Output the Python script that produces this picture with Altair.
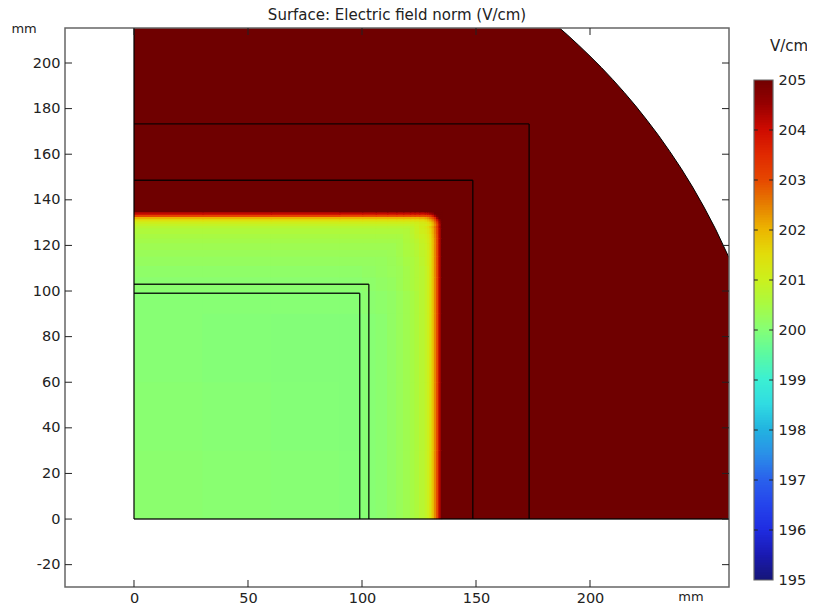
import altair as alt
import pandas as pd

# ---- axes ----
x_ticks = [0, 50, 100, 150, 200]
y_ticks = [-20, 0, 20, 40, 60, 80, 100, 120, 140, 160, 180, 200]
x_dom = [-30.26, 260.96]
y_dom = [-29.8, 215.35]
tick_mm = 3.07

# ---- outer boundary (arc), mm ----
arc_x = [0, 185, 190, 195, 200, 205, 210, 215, 220, 225, 230, 235, 240, 245, 250, 255, 260, 261]
arc_y = [216.8, 216.8, 212.4, 207.8, 203.0, 198.0, 192.7, 187.1, 181.2, 174.9, 168.3, 161.2, 153.7, 145.6, 136.8, 127.3, 116.7, 114.5]

# ---- square outlines, mm ----
squares = [99, 103, 148.6, 173.3]

# ---- field norm on a non-uniform grid (V/cm) ----
edges = [0, 30, 60, 90, 100, 106, 111, 115, 118, 121, 123, 125, 127.5, 128.5, 129.5, 130.5, 131.5, 132.5, 133.5, 134.5, 135.5]
tail = [200.85, 201.0, 201.3, 201.8, 202.4, 203.0, 204.2, 205]
field = [
    [200.06, 200.03, 200.0, 199.97, 200.0, 200.05, 200.15, 200.25, 200.35, 200.45, 200.55, 200.7] + tail,
    [200.03, 200.0, 199.97, 199.95, 200.0, 200.05, 200.15, 200.25, 200.35, 200.45, 200.55, 200.7] + tail,
    [200.0, 199.97, 199.95, 199.95, 200.0, 200.05, 200.15, 200.25, 200.35, 200.45, 200.55, 200.7] + tail,
    [200.0, 200.0, 200.0, 200.0, 200.05, 200.1, 200.15, 200.25, 200.35, 200.45, 200.55, 200.7] + tail,
    [200.05, 200.05, 200.05, 200.05, 200.1, 200.15, 200.2, 200.3, 200.4, 200.5, 200.6, 200.7] + tail,
    [200.12, 200.12, 200.12, 200.12, 200.15, 200.2, 200.25, 200.3, 200.4, 200.5, 200.6, 200.7] + tail,
    [200.2, 200.2, 200.2, 200.2, 200.2, 200.22, 200.27, 200.35, 200.45, 200.5, 200.6, 200.75, 200.9, 201.05, 201.3, 201.8, 202.4, 203.0, 204.2, 205],
    [200.27, 200.27, 200.27, 200.27, 200.27, 200.27, 200.3, 200.38, 200.5, 200.55, 200.65, 200.8, 200.9, 201.05, 201.3, 201.8, 202.4, 203.0, 204.2, 205],
    [200.33, 200.33, 200.33, 200.33, 200.33, 200.33, 200.33, 200.4, 200.52, 200.6, 200.7, 200.85, 200.95, 201.1, 201.35, 201.85, 202.4, 203.0, 204.2, 205],
    [200.4, 200.4, 200.4, 200.4, 200.4, 200.4, 200.4, 200.42, 200.55, 200.65, 200.75, 200.9, 201.0, 201.15, 201.4, 201.85, 202.4, 203.0, 204.2, 205],
    [200.47, 200.47, 200.47, 200.47, 200.47, 200.47, 200.47, 200.47, 200.57, 200.7, 200.85, 200.95, 201.05, 201.2, 201.45, 201.9, 202.45, 203.0, 204.2, 205],
    [200.57, 200.57, 200.57, 200.57, 200.57, 200.57, 200.57, 200.57, 200.6, 200.75, 200.9, 201.05, 201.15, 201.3, 201.55, 202.0, 202.5, 203.1, 204.2, 205],
    [200.7, 200.7, 200.7, 200.7, 200.7, 200.7, 200.7, 200.7, 200.7, 200.8, 200.95, 201.1, 201.25, 201.45, 201.7, 202.1, 202.6, 203.2, 204.3, 205],
    [200.85, 200.85, 200.85, 200.85, 200.85, 200.85, 200.85, 200.85, 200.85, 200.9, 201.0, 201.1, 201.15, 201.3, 201.5, 201.9, 202.4, 203.0, 204.2, 205],
    [201.05, 201.05, 201.05, 201.05, 201.05, 201.05, 201.05, 201.05, 201.05, 201.05, 201.1, 201.2, 201.3, 201.45, 201.65, 202.05, 202.6, 203.3, 204.4, 205],
    [201.4, 201.4, 201.4, 201.4, 201.4, 201.4, 201.4, 201.4, 201.4, 201.4, 201.45, 201.5, 201.6, 201.8, 202.05, 202.4, 202.9, 203.8, 204.6, 205],
    [202.0, 202.0, 202.0, 202.0, 202.0, 202.0, 202.0, 202.0, 202.0, 202.0, 202.0, 202.05, 202.15, 202.3, 202.6, 202.9, 203.5, 204.4, 205, 205],
    [203.0, 203.0, 203.0, 203.0, 203.0, 203.0, 203.0, 203.0, 203.0, 203.0, 203.0, 203.0, 203.0, 203.1, 203.3, 203.8, 204.4, 204.9, 205, 205],
    [204.1, 204.1, 204.1, 204.1, 204.1, 204.1, 204.1, 204.1, 204.1, 204.1, 204.1, 204.1, 204.15, 204.2, 204.4, 204.6, 205, 205, 205, 205],
    [205] * 20,
]

# ---- colour table ----
stops = [195, 195.5, 196, 196.5, 197, 197.5, 198, 198.5, 199, 199.5, 200, 200.5, 201, 201.5, 202, 202.5, 203, 203.5, 204, 204.5, 205]
colors = ["#15157a", "#1a1ab4", "#1f2de2", "#2545ec", "#2a62ec", "#2a90e8", "#22b4e0", "#30dce2", "#3cf0d2", "#5cfaa0",
          "#87ff74", "#aafa40", "#ccf01c", "#e2dc0a", "#ecb400", "#e67c00", "#e64600", "#e02800", "#cd0a00", "#960000", "#6f0000"]
bar_ticks = [195, 196, 197, 198, 199, 200, 201, 202, 203, 204, 205]
bar_levels = [195 + i * 0.05 for i in range(200)]

color_scale = alt.Scale(domain=stops, range=colors, interpolate="rgb", clamp=True)
FONT = "DejaVu Sans"
FRAME = "#666666"
INK = "#222222"
LABEL_SIZE = 14.5

# Cells overlap the next ones slightly; later cells paint over, so no seams show.
cells = []
for r, row in enumerate(field):
    for c, v in enumerate(row):
        cells.append({"x": edges[c], "x2": min(edges[c + 1] + 0.6, edges[-1]),
                      "y": edges[r], "y2": min(edges[r + 1] + 0.6, edges[-1]), "v": v})
cells = pd.DataFrame(cells)

X = alt.Scale(domain=x_dom, nice=False, zero=False)
Y = alt.Scale(domain=y_dom, nice=False, zero=False)

x_axis = alt.Axis(values=x_ticks, ticks=False, domain=False, grid=False, title=None, labelPadding=4,
                  labelFontSize=LABEL_SIZE, labelFont=FONT, labelColor=INK, labelFlush=False, labelOverlap=False,
                  labelExpr="'' + datum.value")
y_axis = alt.Axis(values=y_ticks, ticks=False, domain=False, grid=False, title=None, labelPadding=5,
                  labelFontSize=LABEL_SIZE, labelFont=FONT, labelColor=INK, labelFlush=False, labelOverlap=False,
                  labelExpr="'' + datum.value")

arc_df = pd.DataFrame({"x": arc_x, "y": arc_y})
area = alt.Chart(arc_df).mark_area(color="#6f0000", clip=True, interpolate="linear").encode(
    x=alt.X("x:Q", scale=X, axis=x_axis), y=alt.Y("y:Q", scale=Y, axis=y_axis), y2=alt.datum(0))
arc_line = alt.Chart(arc_df).mark_line(color="#000000", strokeWidth=1, clip=True).encode(
    x=alt.X("x:Q", scale=X), y=alt.Y("y:Q", scale=Y))

rects = alt.Chart(cells).mark_rect().encode(
    x=alt.X("x:Q", scale=X), x2="x2:Q", y=alt.Y("y:Q", scale=Y), y2="y2:Q",
    fill=alt.Fill("v:Q", scale=color_scale, legend=None))

LINE_STYLE = dict(color="#000000", strokeWidth=1.4, opacity=0.85)
sq = pd.DataFrame({"s": squares, "z": [0] * len(squares)})
sq_v = alt.Chart(sq).mark_rule(**LINE_STYLE).encode(
    x=alt.X("s:Q", scale=X), y=alt.Y("z:Q", scale=Y), y2="s:Q")
sq_h = alt.Chart(sq).mark_rule(**LINE_STYLE).encode(
    y=alt.Y("s:Q", scale=Y), x=alt.X("z:Q", scale=X), x2="s:Q")

left_edge = alt.Chart(pd.DataFrame({"x": [0], "y": [0], "y2": [y_dom[1]]})).mark_rule(**LINE_STYLE).encode(
    x=alt.X("x:Q", scale=X), y=alt.Y("y:Q", scale=Y), y2="y2:Q")
bottom_edge = alt.Chart(pd.DataFrame({"x": [0], "x2": [x_dom[1]], "y": [0]})).mark_rule(**LINE_STYLE).encode(
    x=alt.X("x:Q", scale=X), x2="x2:Q", y=alt.Y("y:Q", scale=Y))

frame = alt.Chart(pd.DataFrame({"x": [x_dom[0]], "x2": [x_dom[1]], "y": [y_dom[0]], "y2": [y_dom[1]]})).mark_rect(
    fillOpacity=0, stroke=FRAME, strokeWidth=1.5).encode(
    x=alt.X("x:Q", scale=X), x2="x2:Q", y=alt.Y("y:Q", scale=Y), y2="y2:Q")

xt = pd.DataFrame({"x": x_ticks})
xt_bot = alt.Chart(xt.assign(a=y_dom[0], b=y_dom[0] + tick_mm)).mark_rule(color=INK, strokeWidth=1).encode(
    x=alt.X("x:Q", scale=X), y=alt.Y("a:Q", scale=Y), y2="b:Q")
xt_top = alt.Chart(xt.assign(a=y_dom[1], b=y_dom[1] - tick_mm)).mark_rule(color=INK, strokeWidth=1).encode(
    x=alt.X("x:Q", scale=X), y=alt.Y("a:Q", scale=Y), y2="b:Q")
yt = pd.DataFrame({"y": y_ticks})
yt_left = alt.Chart(yt.assign(a=x_dom[0], b=x_dom[0] + tick_mm)).mark_rule(color=INK, strokeWidth=1).encode(
    y=alt.Y("y:Q", scale=Y), x=alt.X("a:Q", scale=X), x2="b:Q")
yt_right = alt.Chart(yt.assign(a=x_dom[1], b=x_dom[1] - tick_mm)).mark_rule(color=INK, strokeWidth=1).encode(
    y=alt.Y("y:Q", scale=Y), x=alt.X("a:Q", scale=X), x2="b:Q")

units = alt.Chart(pd.DataFrame({"x": [-48.2, 244.3], "y": [214.9, -34.0], "t": ["mm", "mm"]})).mark_text(
    font=FONT, fontSize=13, color=INK, align="center", baseline="middle").encode(
    x=alt.X("x:Q", scale=X), y=alt.Y("y:Q", scale=Y), text="t:N")

main = alt.layer(area, rects, arc_line, sq_v, sq_h, left_edge, bottom_edge, frame,
                 xt_bot, xt_top, yt_left, yt_right, units).properties(
    width=664, height=559,
    title=alt.TitleParams("Surface: Electric field norm (V/cm)", font=FONT, fontSize=15, fontWeight="normal",
                          color=INK, anchor="middle", offset=0))

# ---- colour bar ----
CX = alt.Scale(domain=[0, 1], nice=False, zero=False)
CY = alt.Scale(domain=[194.86, 206.04], nice=False, zero=False)
bar_df = pd.DataFrame({"v": bar_levels, "v2": [min(v + 0.1, 205) for v in bar_levels], "a": 0, "b": 1})
bar = alt.Chart(bar_df).mark_rect().encode(
    x=alt.X("a:Q", scale=CX, axis=None), x2="b:Q",
    y=alt.Y("v:Q", scale=CY, axis=alt.Axis(orient="right", values=bar_ticks, ticks=False, domain=False, grid=False,
                                           title=None, labelPadding=5, labelFontSize=LABEL_SIZE, labelFont=FONT,
                                           labelColor=INK, format="d", labelFlush=False, labelOverlap=False)),
    y2="v2:Q",
    fill=alt.Fill("v:Q", scale=color_scale, legend=None))
bar_frame = alt.Chart(pd.DataFrame({"a": [0], "b": [1], "v": [195], "v2": [205]})).mark_rect(
    fillOpacity=0, stroke=FRAME, strokeWidth=1.2).encode(
    x=alt.X("a:Q", scale=CX), x2="b:Q", y=alt.Y("v:Q", scale=CY), y2="v2:Q")
inner = pd.DataFrame({"v": bar_ticks[1:-1]})
bt_l = alt.Chart(inner.assign(a=0, b=0.2)).mark_rule(color=INK, strokeWidth=1).encode(
    x=alt.X("a:Q", scale=CX), x2="b:Q", y=alt.Y("v:Q", scale=CY))
bt_r = alt.Chart(inner.assign(a=0.8, b=1)).mark_rule(color=INK, strokeWidth=1).encode(
    x=alt.X("a:Q", scale=CX), x2="b:Q", y=alt.Y("v:Q", scale=CY))
bar_unit = alt.Chart(pd.DataFrame({"a": [1.85], "v": [205.68], "t": ["V/cm"]})).mark_text(
    font=FONT, fontSize=15, color=INK, align="center", baseline="middle").encode(
    x=alt.X("a:Q", scale=CX), y=alt.Y("v:Q", scale=CY), text="t:N")
cbar = alt.layer(bar, bar_frame, bt_l, bt_r, bar_unit).properties(width=19, height=559)

chart = alt.hconcat(main, cbar, spacing=23).resolve_scale(
    x="independent", y="independent", fill="shared"
).properties(padding={"left": 3, "top": 0, "right": -2, "bottom": 0}, background="white").configure_view(strokeWidth=0)

chart.save("out.html", embed_options={"renderer": "svg", "actions": False})
